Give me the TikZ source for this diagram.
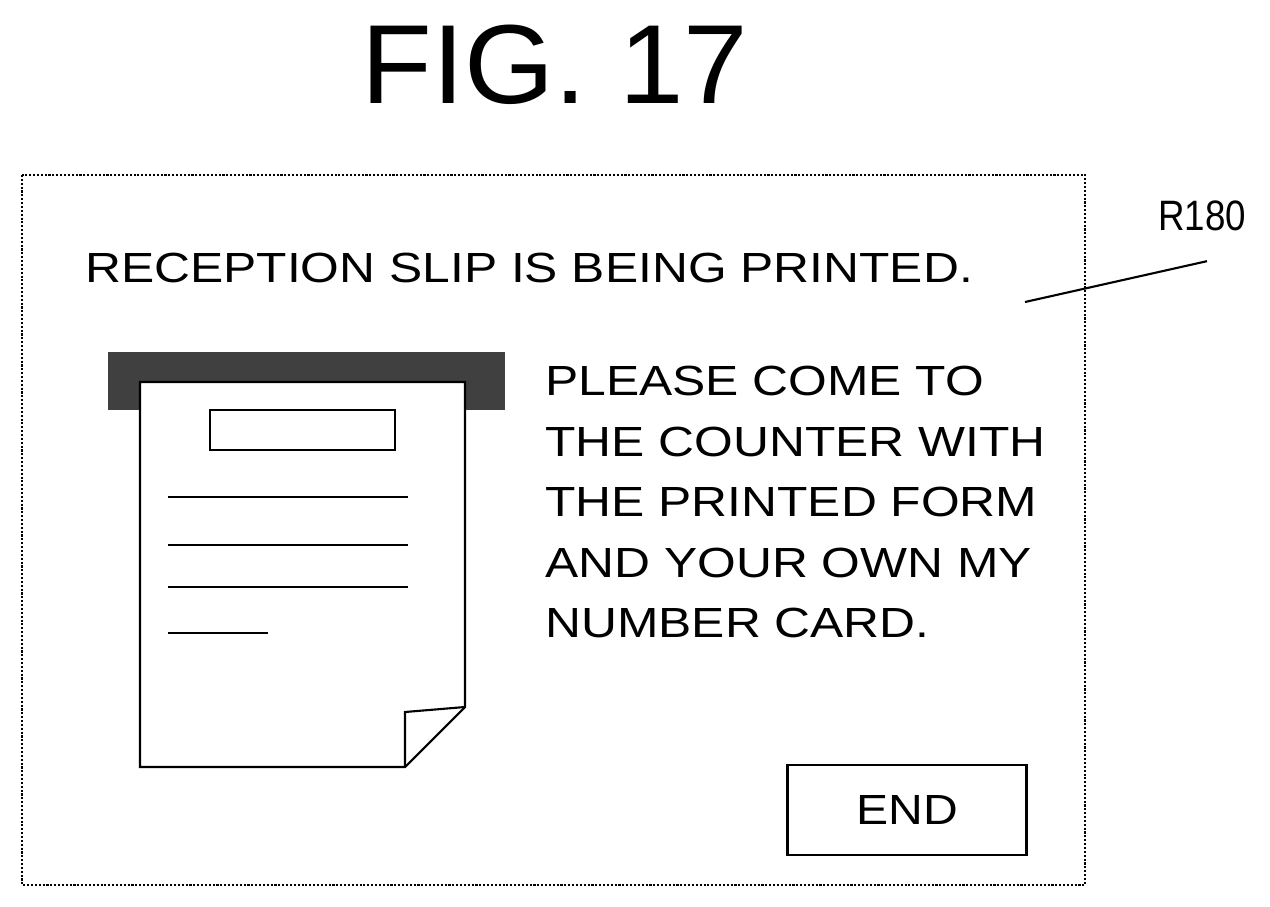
\documentclass[tikz,border=0pt]{standalone}
\usepackage{fontspec}
\setmainfont{Liberation Sans}
\usetikzlibrary{positioning}
\newcommand{\wide}[1]{\scalebox{1.18}[1]{#1}}
\begin{document}
\begin{tikzpicture}[x=0.02cm,y=-0.02cm,
  frame/.style={draw, line width=1.2pt, densely dotted},
  msg/.style={anchor=west, inner sep=0pt, font=\fontsize{24}{24}\selectfont},
  rule/.style={draw, line width=1.2pt}
]
\useasboundingbox (0,0) rectangle (1270,906);
\node[font=\fontsize{64}{64}\selectfont] (title) at (555,65) {\scalebox{1.03}[1]{FIG. 17}};
\draw[frame] (22,175) rectangle (1085,885);
\node[msg] (head) at (85,268) {\wide{RECEPTION SLIP IS BEING PRINTED.}};
\node[font=\fontsize{22}{22}\selectfont, inner sep=1pt] (ref) at (1202,216) {\scalebox{0.95}[1.1]{R180}};
\coordinate (refend) at (1025,302);
\draw[rule] (ref.south) ++(5,28) -- (refend);
% printer slot and slip
\fill[black!75] (108,352) rectangle (505,410);
\draw[rule, fill=white] (140,382) -- (465,382) -- (465,707) -- (405,767) -- (140,767) -- cycle;
\draw[rule] (405,767) -- (405,712) -- (465,707);
\draw[rule] (210,410) rectangle (395,450);
\foreach \y in {497,545,587} \draw[rule] (168,\y) -- (408,\y);
\draw[rule] (168,633) -- (268,633);
% instructions
\foreach \t [count=\i from 0] in {PLEASE COME TO,THE COUNTER WITH,THE PRINTED FORM,AND YOUR OWN MY,NUMBER CARD.}
  \node[msg] (line\i) at (545,381+60.5*\i) {\wide{\t}};
\node[draw, line width=1.2pt, minimum width=4.78cm, minimum height=1.8cm, font=\fontsize{24}{24}\selectfont] (endbtn) at (907,810) {\scalebox{1.14}[1]{END}};
\end{tikzpicture}
\end{document}
